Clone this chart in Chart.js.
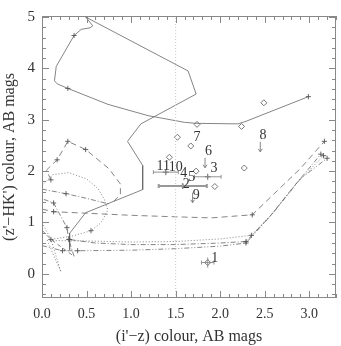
<!DOCTYPE html>
<html>
<head>
<meta charset="utf-8">
<script src="https://cdn.jsdelivr.net/npm/chart.js@4"></script>
<style>
  html, body { margin: 0; padding: 0; background: #fff; }
  canvas { display: block; }
</style>
</head>
<body>
<canvas id="colourChart" width="341" height="346"></canvas>
<script>
const xTicks = [0, 0.5, 1, 1.5, 2, 2.5, 3];
const yTicks = [0, 1, 2, 3, 4, 5];

// tracks
const solidX = [2.99, 2.29, 2.20, 1.73, 1.60, 1.19, 0.74, 0.29, 0.17, 0.14, 0.16, 0.36, 0.44, 0.54, 0.57, 0.49, 1.64, 1.73, 1.11, 0.96, 1.13, 1.13, 0.49, 0.31, 0.31, 0.31];
const solidY = [3.45, 2.97, 2.92, 2.93, 2.95, 3.08, 3.30, 3.61, 3.70, 3.76, 4.04, 4.64, 4.76, 4.79, 4.83, 5.00, 3.95, 3.50, 2.92, 2.58, 2.11, 1.64, 1.19, 0.79, 0.67, 0.47];

const dashUpX = [0.10, 0.05, 0.17, 0.29, 0.49, 0.75, 0.88, 0.88, 0.80];
const dashUpY = [1.83, 2.02, 2.22, 2.58, 2.42, 2.05, 1.75, 1.55, 1.40];

const dashMidX = [0.00, 0.13, 0.50, 1.00, 1.50, 1.90, 2.36, 2.60, 2.90, 3.17];
const dashMidY = [1.26, 1.21, 1.18, 1.14, 1.11, 1.09, 1.15, 1.55, 2.05, 2.58];

const dotLoopX = [0.00, 0.12, 0.30, 0.50, 0.63, 0.70, 0.74, 0.66, 0.55, 0.35, 0.10];
const dotLoopY = [1.72, 1.93, 1.97, 1.85, 1.66, 1.45, 1.24, 0.99, 0.84, 0.74, 0.67];

const dashDotUpX = [0.00, 0.27, 0.50, 0.75];
const dashDotUpY = [1.65, 1.56, 1.47, 1.36];

const fanAX = [0.02, 0.13, 0.28, 0.30];
const fanAY = [1.45, 1.38, 0.90, 0.67];
const fanBX = [0.00, 0.10, 0.21];
const fanBY = [1.00, 0.67, 0.05];
const fanCX = [0.00, 0.10, 0.36];
const fanCY = [0.85, 0.67, 0.34];

const botDotX = [0.21, 0.12, 0.06, 0.50, 1.00, 1.50, 2.00, 2.35, 2.60, 2.85, 3.16];
const botDotY = [0.05, 0.40, 0.65, 0.64, 0.62, 0.63, 0.68, 0.75, 1.20, 1.75, 2.30];
const botDashDotX = [0.36, 0.30, 0.60, 1.00, 1.50, 2.00, 2.29, 2.55, 2.85, 3.13];
const botDashDotY = [0.34, 0.67, 0.60, 0.57, 0.57, 0.60, 0.63, 1.10, 1.75, 2.33];
const botDash3X = [0.00, 0.23, 0.40, 1.00, 1.50, 2.00, 2.29, 2.60, 2.90, 3.20];
const botDash3Y = [0.55, 0.45, 0.45, 0.46, 0.49, 0.54, 0.60, 1.20, 1.85, 2.25];

const cutX = [1.5, 1.5];
const cutY = [-0.47, 5.02];

// observed galaxies
const galX = [1.52, 1.67, 2.49, 1.74, 2.24, 2.27, 1.73, 1.43, 1.94, 1.86];
const galY = [2.66, 2.49, 3.33, 2.91, 2.87, 2.06, 2.00, 2.27, 1.70, 0.22];

const ebX = [1.39, 1.86, 1.58, 1.86];
const ebY = [1.98, 1.89, 1.71, 0.22];
const ebXErr = [0.14, 0.15, 0.27, 0.07];
const ebYErr = [0.03, 0.03, 0.04, 0.10];

const limX = [2.45, 1.83, 1.69];
const limY = [2.57, 2.26, 1.58];

const labelText = ['11', '10', '4', '5', '2', '9', '3', '6', '7', '8', '1'];
const labelX = [1.36, 1.50, 1.59, 1.68, 1.62, 1.73, 1.93, 1.87, 1.74, 2.48, 1.94];
const labelY = [2.10, 2.08, 1.96, 1.87, 1.75, 1.52, 2.05, 2.39, 2.66, 2.69, 0.31];

const FONT = "'Liberation Serif', 'DejaVu Serif', serif";
const LINE = '#666';
const heavyBar = 2;

const pts = (xs, ys) => xs.map((x, i) => ({ x: x, y: ys[i] }));

function track(xs, ys, dash, marks) {
    return {
        data: pts(xs, ys),
        showLine: true,
        borderColor: LINE,
        borderWidth: 0.8,
        borderDash: dash,
        fill: false,
        tension: 0,
        pointStyle: 'cross',
        pointRadius: (c) => (marks.includes(c.dataIndex) ? 2.6 : 0),
        pointBorderColor: '#555',
        pointBorderWidth: 0.9,
        pointHoverRadius: 0
    };
}

const frameTicks = {
    id: 'frameTicks',
    afterDraw(chart) {
        const { ctx, chartArea: a, scales: { x, y } } = chart;
        ctx.save();
        ctx.strokeStyle = '#888';
        ctx.lineWidth = 1;
        ctx.strokeRect(a.left + 0.5, a.top + 0.5, a.right - a.left - 1, a.bottom - a.top - 1);
        ctx.beginPath();
        for (let i = 0; i <= 33; i++) {
            const px = Math.round(x.getPixelForValue(i / 10)) + 0.5;
            const len = i % 5 === 0 ? 7 : 4;
            ctx.moveTo(px, a.bottom); ctx.lineTo(px, a.bottom - len);
            ctx.moveTo(px, a.top); ctx.lineTo(px, a.top + len);
        }
        for (let i = -2; i <= 25; i++) {
            const py = Math.round(y.getPixelForValue(i / 5)) + 0.5;
            const len = i % 5 === 0 ? 7 : 4;
            ctx.moveTo(a.left, py); ctx.lineTo(a.left + len, py);
            ctx.moveTo(a.right, py); ctx.lineTo(a.right - len, py);
        }
        ctx.stroke();
        ctx.restore();
    }
};

const marksPlugin = {
    id: 'marksPlugin',
    afterDatasetsDraw(chart) {
        const { ctx, scales: { x, y } } = chart;
        ctx.save();
        // error bars
        ebX.forEach((v, i) => {
            const cx = x.getPixelForValue(v), cy = y.getPixelForValue(ebY[i]);
            const x0 = x.getPixelForValue(v - ebXErr[i]), x1 = x.getPixelForValue(v + ebXErr[i]);
            const y0 = y.getPixelForValue(ebY[i] - ebYErr[i]), y1 = y.getPixelForValue(ebY[i] + ebYErr[i]);
            ctx.strokeStyle = i === heavyBar ? '#999' : '#888';
            ctx.lineWidth = i === heavyBar ? 2 : 0.9;
            ctx.beginPath();
            ctx.moveTo(x0, cy); ctx.lineTo(x1, cy);
            ctx.moveTo(cx, y0); ctx.lineTo(cx, y1);
            ctx.moveTo(x0, cy - 2); ctx.lineTo(x0, cy + 2);
            ctx.moveTo(x1, cy - 2); ctx.lineTo(x1, cy + 2);
            ctx.stroke();
        });
        // upper limits
        ctx.strokeStyle = '#777';
        ctx.lineWidth = 0.9;
        limX.forEach((v, i) => {
            const cx = x.getPixelForValue(v), cy = y.getPixelForValue(limY[i]);
            ctx.beginPath();
            ctx.moveTo(cx, cy); ctx.lineTo(cx, cy + 10);
            ctx.moveTo(cx - 2, cy + 7); ctx.lineTo(cx, cy + 10); ctx.lineTo(cx + 2, cy + 7);
            ctx.stroke();
        });
        // labels
        ctx.fillStyle = '#333';
        ctx.font = '14px ' + FONT;
        ctx.textAlign = 'center';
        ctx.textBaseline = 'middle';
        labelText.forEach((t, i) => {
            ctx.fillText(t, x.getPixelForValue(labelX[i]), y.getPixelForValue(labelY[i]));
        });
        ctx.restore();
    }
};

new Chart(document.getElementById('colourChart').getContext('2d'), {
    type: 'scatter',
    data: {
        datasets: [
            {
                data: pts(cutX, cutY),
                showLine: true,
                borderColor: '#c8c8c8',
                borderWidth: 1,
                borderDash: [1, 2],
                pointRadius: 0
            },
            track(solidX, solidY, [], [0, 7, 11, 24]),
            track(dashUpX, dashUpY, [6, 4], [0, 2, 3, 4]),
            track(dashMidX, dashMidY, [6, 4], [1, 6, 9]),
            track(dotLoopX, dotLoopY, [1, 2], [8]),
            track(dashDotUpX, dashDotUpY, [5, 2, 1, 2], [1]),
            track(fanAX, fanAY, [5, 2, 1, 2], [1, 2]),
            track(fanBX, fanBY, [1, 2], [1]),
            track(fanCX, fanCY, [4, 3], []),
            track(botDotX, botDotY, [1, 2], [7, 10]),
            track(botDashDotX, botDashDotY, [5, 2, 1, 2], [1, 6, 9]),
            track(botDash3X, botDash3Y, [5, 2, 1, 2, 1, 2], [1, 2, 6, 9]),
            {
                data: pts(galX, galY),
                pointStyle: 'rectRot',
                pointRadius: 3,
                backgroundColor: '#fff',
                borderColor: '#666',
                borderWidth: 0.9
            },
            {
                data: pts(ebX, ebY),
                pointStyle: 'cross',
                pointRadius: 3,
                borderColor: '#666',
                borderWidth: 1
            }
        ]
    },
    options: {
        responsive: false,
        animation: false,
        events: [],
        layout: { padding: { top: 5, right: 5, left: 0, bottom: 0 } },
        plugins: { legend: { display: false }, tooltip: { enabled: false } },
        scales: {
            x: {
                type: 'linear',
                min: 0,
                max: 3.3,
                grid: { display: false, drawTicks: false },
                border: { display: false },
                afterBuildTicks: (s) => { s.ticks = xTicks.map((v) => ({ value: v })); },
                afterFit: (s) => { s.height = 48; },
                ticks: {
                    padding: 8,
                    color: '#333',
                    font: { family: FONT, size: 14 },
                    maxRotation: 0,
                    callback: (v) => Number(v).toFixed(1)
                },
                title: {
                    display: true,
                    text: "(i'\u2212z) colour, AB mags",
                    color: '#333',
                    font: { family: FONT, size: 16 },
                    padding: { top: 2, bottom: 0 }
                }
            },
            y: {
                type: 'linear',
                min: -0.47,
                max: 5.02,
                grid: { display: false, drawTicks: false },
                border: { display: false },
                afterBuildTicks: (s) => { s.ticks = yTicks.map((v) => ({ value: v })); },
                afterFit: (s) => { s.width = 42; },
                ticks: {
                    padding: 7,
                    color: '#333',
                    font: { family: FONT, size: 15 },
                    callback: (v) => String(v)
                },
                title: {
                    display: true,
                    text: "(z'\u2212HK') colour, AB mags",
                    color: '#333',
                    font: { family: FONT, size: 16 },
                    padding: { top: 0, bottom: 0 }
                }
            }
        }
    },
    plugins: [frameTicks, marksPlugin]
});
</script>
</body>
</html>
